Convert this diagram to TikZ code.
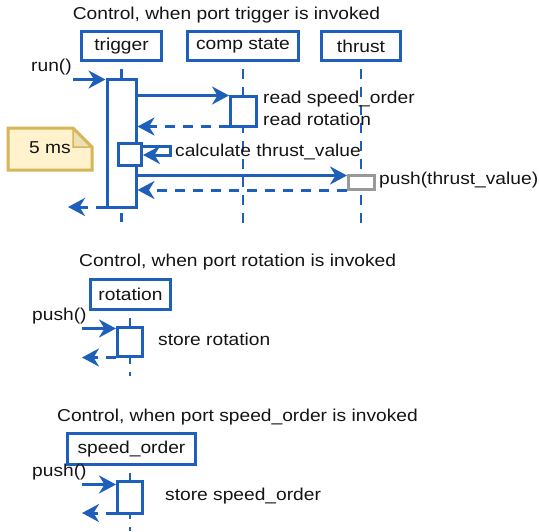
\documentclass[tikz,border=0pt]{standalone}
\usepackage{fontspec}
\setmainfont[FakeStretch=1.116]{Liberation Sans}
\usetikzlibrary{arrows.meta}
\definecolor{lblue}{RGB}{30,95,185}
\definecolor{notefill}{RGB}{255,242,204}
\definecolor{notedraw}{RGB}{214,182,86}
\definecolor{notefold}{RGB}{238,224,180}
\definecolor{actgray}{RGB}{153,153,153}
\definecolor{txt}{RGB}{20,20,20}
\tikzset{
  every node/.style={font=\fontsize{17.2}{20}\selectfont, text=txt, inner sep=0pt},
  lbl/.style={anchor=base west},
  headbox/.style={draw=lblue, line width=3pt, fill=white},
  actbox/.style={draw=lblue, line width=3pt, fill=white},
  lifeline/.style={draw=lblue, line width=2.5pt, dash pattern=on 10pt off 8pt, dash phase=11pt},
  msg/.style={draw=lblue, line width=3pt, -{Stealth[length=17pt,width=18pt,inset=5.5pt]}},
  ret/.style={msg, dash pattern=on 10pt off 8pt},
}
\begin{document}
\begin{tikzpicture}[x=1pt,y=-1pt]
\useasboundingbox (0,0) rectangle (539,531);

% ===== Section 1 =====
\node[anchor=base] (t1) at (226.5,19) {Control, when port trigger is invoked};
\node[headbox, minimum width=80pt, minimum height=29pt] (hT) at (121.5,46) {trigger};
\node[headbox, minimum width=111pt, minimum height=29pt] (hC) at (243,46) {comp state};
\node[headbox, minimum width=79pt, minimum height=29pt] (hTh) at (361,46) {thrust};
\coordinate (eT) at (121.5,222);
\coordinate (eC) at (243,224);
\coordinate (eTh) at (361,224);
\draw[lifeline] (hT.south) -- (eT);
\draw[lifeline] (hC.south) -- (eC);
\draw[lifeline] (hTh.south) -- (eTh);

% note
\draw[draw=notedraw, fill=notefill, line width=3pt, line join=miter]
  (8,128) -- (73,128) -- (92,147) -- (92,170) -- (8,170) -- cycle;
\draw[draw=notedraw, fill=notefold, line width=1.5pt] (73,129) -- (73,147) -- (91,147) -- cycle;
\node (note) at (50,148) {5 ms};

\node[actbox, minimum width=29pt, minimum height=128pt] (aT) at (121.5,143) {};
\node[actbox, minimum width=26pt, minimum height=30pt] (aC) at (243.5,111) {};
\node[actbox, minimum width=23pt, minimum height=22pt] (aS) at (130,154.5) {};
\node[actbox, draw=actgray, minimum width=26pt, minimum height=14pt] (aTh) at (361.5,182.5) {};

\coordinate (run0) at (73,79.5);
\draw[msg] (run0) -- (aT.west |- run0);
\node[lbl] (lrun) at (31,71.5) {run()};

\draw[msg] (aT.east |- 0,95.5) -- (aC.west |- 0,95.5);
\draw[ret] (aC.west |- 0,126.5) -- (aT.east |- 0,126.5);
\node[lbl] (lrs) at (263,103.5) {read speed\_order};
\node[lbl] (lrr) at (263,125.5) {read rotation};

\coordinate (s1) at (170.5,146);
\coordinate (s2) at (170.5,155);
\draw[msg, line join=miter] (aS.east |- s1) -- (s1) -- (s2) -- (aS.east |- s2);
\node[lbl] (lcalc) at (175,156.7) {calculate thrust\_value};

\draw[msg] (aT.east |- 0,175.5) -- (aTh.west |- 0,175.5);
\draw[ret] (aTh.west |- 0,190) -- (aT.east |- 0,190);
\node[lbl] (lpush) at (379,184) {push(thrust\_value)};

\coordinate (fin) at (68,207);
\draw[ret] (aT.west |- fin) -- (fin);

% ===== Section 2 =====
\node[lbl] (t2) at (79,266.7) {Control, when port rotation is invoked};
\node[headbox, minimum width=80pt, minimum height=30pt] (hR) at (130.5,294.5) {rotation};
\coordinate (eR) at (130,376);
\draw[lifeline, dash phase=11pt] (hR.south -| eR) -- (eR);
\node[actbox, minimum width=25pt, minimum height=29pt] (aR) at (130,342) {};
\coordinate (pR) at (82,328.5);
\draw[msg] (pR) -- (aR.west |- pR);
\coordinate (rR) at (82,357.5);
\draw[ret] (aR.west |- rR) -- (rR);
\node[lbl] (lpR) at (32,320.7) {push()};
\node[lbl] (lsR) at (158,345) {store rotation};

% ===== Section 3 =====
\node[lbl] (t3) at (57,421.7) {Control, when port speed\_order is invoked};
\node[headbox, minimum width=128pt, minimum height=31pt] (hS) at (131.5,449) {speed\_order};
\coordinate (eS) at (130,531);
\draw[lifeline] (hS.south -| eS) -- (eS);
\node[actbox, minimum width=25pt, minimum height=32pt] (aSp) at (130,497.5) {};
\coordinate (pS) at (82,484.5);
\draw[msg] (pS) -- (aSp.west |- pS);
\coordinate (rS) at (82,513);
\draw[ret] (aSp.west |- rS) -- (rS);
\node[lbl] (lpS) at (32,476.7) {push()};
\node[lbl] (lsS) at (165,500) {store speed\_order};
\end{tikzpicture}
\end{document}
